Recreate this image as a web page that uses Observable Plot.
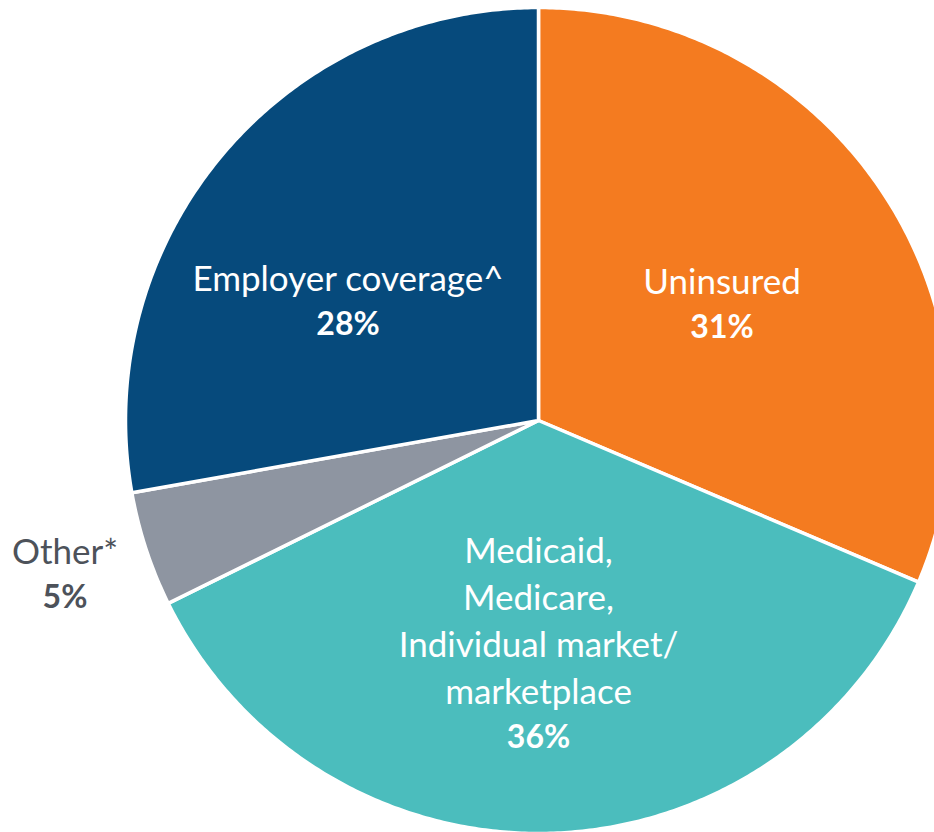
<!DOCTYPE html>
<html>
<head>
<meta charset="utf-8">
<script src="https://cdn.jsdelivr.net/npm/d3@7"></script>
<script src="https://cdn.jsdelivr.net/npm/@observablehq/plot@0.6"></script>
<style>
  html, body { margin: 0; padding: 0; background: #ffffff; }
  #chart svg { display: block; }
</style>
</head>
<body>
<div id="chart"></div>
<script>
// ---- Data ----
const categories = ["Uninsured", "Medicaid, Medicare, Individual market/marketplace", "Other*", "Employer coverage^"];
const labelLines = [
  ["Uninsured"],
  ["Medicaid,", "Medicare,", "Individual market/", "marketplace"],
  ["Other*"],
  ["Employer coverage^"]
];
const shares = [31.4, 36.3, 4.5, 27.8];      // slice sizes
const pctLabels = ["31%", "36%", "5%", "28%"]; // printed labels

// ---- Styles / layout ----
const colors = ["#F47B20", "#4BBDBD", "#8E95A1", "#064A7C"];
const W = 934, H = 832;
const cx = 538, cy = 420, Rpx = 413;           // pie centre and radius in pixels
// label anchor (baseline of last name line) in pixel offsets from centre
const labelOffsets = [[183.5, -127], [0, 283], [-473.5, 143], [-190.5, -130]];
const pctGap = 44;

// ---- Geometry in unit-circle data space ----
const total = d3.sum(shares);
let acc = 0;
const slicePts = [];
categories.forEach((c, i) => {
  const a0 = acc / total * 2 * Math.PI;
  acc += shares[i];
  const a1 = acc / total * 2 * Math.PI;
  slicePts.push({cat: c, x: 0, y: 0});
  const n = Math.max(2, Math.ceil((a1 - a0) / (Math.PI / 360)));
  for (let k = 0; k <= n; k++) {
    const a = a0 + (a1 - a0) * k / n;
    slicePts.push({cat: c, x: Math.sin(a), y: Math.cos(a)});
  }
});

const labels = categories.map((c, i) => {
  const [ox, oy] = labelOffsets[i];
  return {
    cat: c,
    name: labelLines[i].join("\n"),
    pct: pctLabels[i],
    x: ox / Rpx,
    y: -oy / Rpx,
    yp: -(oy + pctGap) / Rpx,
    outside: c === "Other*"
  };
});

const font = "Lato, 'Open Sans', sans-serif";
const chart = Plot.plot({
  width: W,
  height: H,
  margin: 0,
  style: {background: "#ffffff", fontFamily: font},
  x: {domain: [-cx / Rpx, (W - cx) / Rpx], axis: null},
  y: {domain: [-(H - cy) / Rpx, cy / Rpx], axis: null},
  color: {domain: categories, range: colors},
  marks: [
    Plot.line(slicePts, {
      x: "x", y: "y", z: "cat", fill: "cat",
      stroke: "#ffffff", strokeWidth: 3.5, strokeLinejoin: "round",
      curve: "linear-closed"
    }),
    Plot.text(labels.filter(d => !d.outside), {
      x: "x", y: "y", text: "name", lineAnchor: "bottom", lineHeight: 1.343,
      fontSize: 35, fill: "#ffffff", fontFamily: font
    }),
    Plot.text(labels.filter(d => !d.outside), {
      x: "x", y: "yp", text: "pct", lineAnchor: "bottom",
      fontSize: 32, fontWeight: "bold", fill: "#ffffff", fontFamily: font
    }),
    Plot.text(labels.filter(d => d.outside), {
      x: "x", y: "y", text: "name", lineAnchor: "bottom",
      fontSize: 35, fill: "#4d525a", fontFamily: font
    }),
    Plot.text(labels.filter(d => d.outside), {
      x: "x", y: "yp", text: "pct", lineAnchor: "bottom",
      fontSize: 32, fontWeight: "bold", fill: "#4d525a", fontFamily: font
    })
  ]
});
document.getElementById("chart").appendChild(chart);
</script>
</body>
</html>
